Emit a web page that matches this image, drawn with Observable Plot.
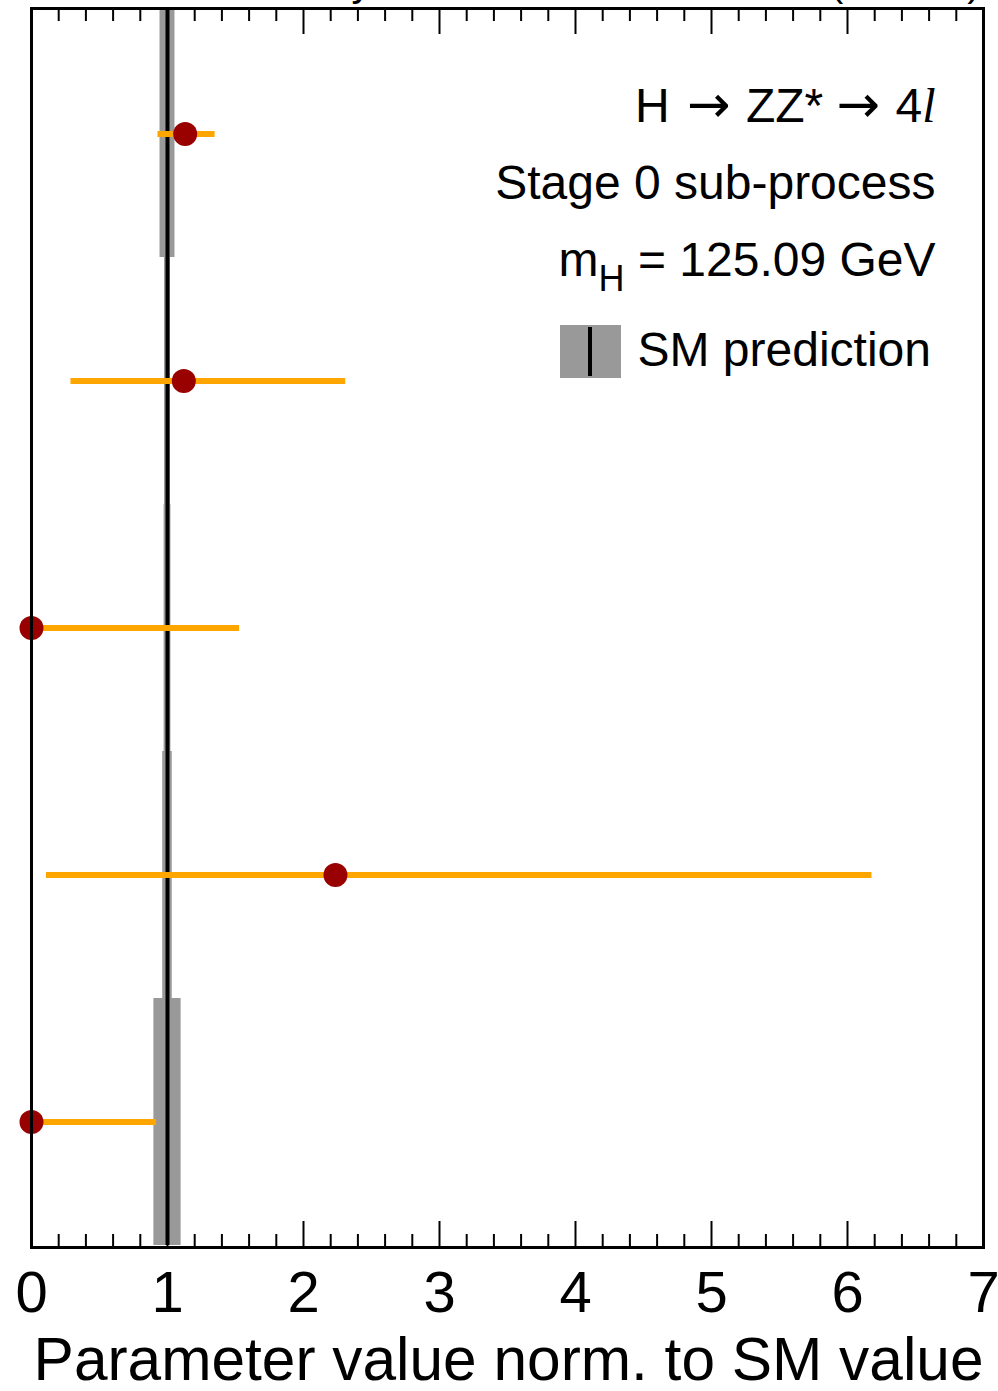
<!DOCTYPE html>
<html><head><meta charset="utf-8">
<script src="https://cdn.jsdelivr.net/npm/d3@7"></script>
<script src="https://cdn.jsdelivr.net/npm/@observablehq/plot@0.6"></script>
<style>body{margin:0;background:#fff;} #chart svg{overflow:visible;display:block}</style>
</head><body><div id="chart"></div>
<script>
// ---- data ----
const processes = ["ggF", "VBF", "VH-Had", "VH-Lep", "ttH"];
const measured  = [1.13, 1.12, 0.0, 2.235, 0.0];
const errLow    = [0.93, 0.29, 0.0, 0.11, 0.0];
const errHigh   = [1.35, 2.31, 1.53, 6.18, 0.92];
const smValue   = [1, 1, 1, 1, 1];
const smLow     = [0.945, 0.978, 0.975, 0.965, 0.90];
const smHigh    = [1.055, 1.022, 1.025, 1.035, 1.10];
const majorTicks = [0, 1, 2, 3, 4, 5, 6, 7];
const minorTicks = [0.2,0.4,0.6,0.8,1.2,1.4,1.6,1.8,2.2,2.4,2.6,2.8,3.2,3.4,3.6,3.8,4.2,4.4,4.6,4.8,5.2,5.4,5.6,5.8,6.2,6.4,6.6,6.8];
const xLabel = "Parameter value norm. to SM value";
const legendLines = ["H → ZZ* → 4l", "Stage 0 sub-process", "mH = 125.09 GeV"];
const smLabel = "SM prediction";
const topLeft = "ATLAS Preliminary";
const topRight = "36.1 fb⁻¹ (13 TeV)";

const data = processes.map((p, i) => ({
  p, v: measured[i], lo: errLow[i], hi: errHigh[i],
  sm: smValue[i], smLo: smLow[i], smHi: smHigh[i]
}));

const W = 998, H = 1391, mL = 31, mR = 15, mT = 8, mB = 144;
const frameH = H - mT - mB;
const font = "'Liberation Sans', Arial, Helvetica, sans-serif";

const plot = Plot.plot({
  width: W, height: H,
  marginLeft: mL, marginRight: mR, marginTop: mT, marginBottom: mB,
  style: {fontFamily: font, background: "white", color: "black"},
  x: {domain: [0, 7], axis: null},
  y: {domain: processes, padding: 0, axis: null},
  marks: [
    Plot.barX(data, {y: "p", x1: "smLo", x2: "smHi", fill: "#999999"}),
    Plot.tickX(data, {x: "sm", y: "p", stroke: "black", strokeWidth: 4}),
    Plot.ruleY(data, {y: "p", x1: "lo", x2: "hi", stroke: "#ffa500", strokeWidth: 6}),
    Plot.dot(data, {x: "v", y: "p", r: 12, fill: "#990000"}),
    // ticks (bottom and top, pointing inward)
    Plot.tickX(minorTicks, {x: d => d, insetTop: frameH - 13, stroke: "black", strokeWidth: 2}),
    Plot.tickX(minorTicks, {x: d => d, insetBottom: frameH - 13, stroke: "black", strokeWidth: 2}),
    Plot.tickX(majorTicks, {x: d => d, insetTop: frameH - 26, stroke: "black", strokeWidth: 2}),
    Plot.tickX(majorTicks, {x: d => d, insetBottom: frameH - 26, stroke: "black", strokeWidth: 2}),
    Plot.frame({stroke: "black", strokeWidth: 3}),
    Plot.axisX(majorTicks, {anchor: "bottom", tickSize: 0, tickPadding: 23, fontSize: 58, tickFormat: d => String(d), fill: "black"}),
    Plot.text([xLabel], {frameAnchor: "bottom-right", textAnchor: "end", lineAnchor: "bottom", dy: 132, fontSize: 60.4, fill: "black"}),
    Plot.text([legendLines[0]], {frameAnchor: "top-right", textAnchor: "end", lineAnchor: "bottom", dx: -48, dy: 113, fontSize: 48, fill: "black"}),
    Plot.text([legendLines[1]], {frameAnchor: "top-right", textAnchor: "end", lineAnchor: "bottom", dx: -48, dy: 190, fontSize: 48, fill: "black"}),
    Plot.text([legendLines[2]], {frameAnchor: "top-right", textAnchor: "end", lineAnchor: "bottom", dx: -48, dy: 267, fontSize: 48, fill: "black"}),
    Plot.text([smLabel], {frameAnchor: "top-left", textAnchor: "start", lineAnchor: "bottom", dx: 606, dy: 357, fontSize: 48, fill: "black"}),
    Plot.text([topLeft], {frameAnchor: "top-left", textAnchor: "end", lineAnchor: "bottom", dx: 340, dy: -13, fontSize: 40, fill: "black"}),
    Plot.text([topRight], {frameAnchor: "top-right", textAnchor: "end", lineAnchor: "bottom", dx: -3, dy: -13, fontSize: 40, fill: "black"})
  ]
});

const svg = d3.select(plot);
const serif = "'Liberation Serif', 'Times New Roman', serif";
const arrowFont = "'DejaVu Sans', sans-serif";
// rich text: long arrows, italic l and subscript H
svg.selectAll("text").each(function() {
  const t = d3.select(this);
  const s = t.text();
  if (s === legendLines[0]) {
    t.text("H ");
    t.append("tspan").attr("font-family", arrowFont).attr("font-size", 52).attr("dx", 4).text("→");
    t.append("tspan").attr("dx", 2).text(" ZZ* ");
    t.append("tspan").attr("font-family", arrowFont).attr("font-size", 52).text("→");
    t.append("tspan").attr("dx", 2).text(" 4");
    t.append("tspan").attr("font-family", serif).attr("font-style", "italic").text("l");
  } else if (s === legendLines[2]) {
    t.text("m");
    t.append("tspan").attr("dy", 15).attr("font-size", 36).text("H");
    t.append("tspan").attr("dy", -15).text(" = 125.09 GeV");
  }
});
// legend swatch for the SM prediction
const g = svg.append("g");
g.append("rect").attr("x", 560).attr("y", 325).attr("width", 61).attr("height", 53).attr("fill", "#999999");
g.append("line").attr("x1", 590).attr("x2", 590).attr("y1", 327).attr("y2", 376).attr("stroke", "black").attr("stroke-width", 4);

document.getElementById("chart").appendChild(plot);
</script>
</body></html>
